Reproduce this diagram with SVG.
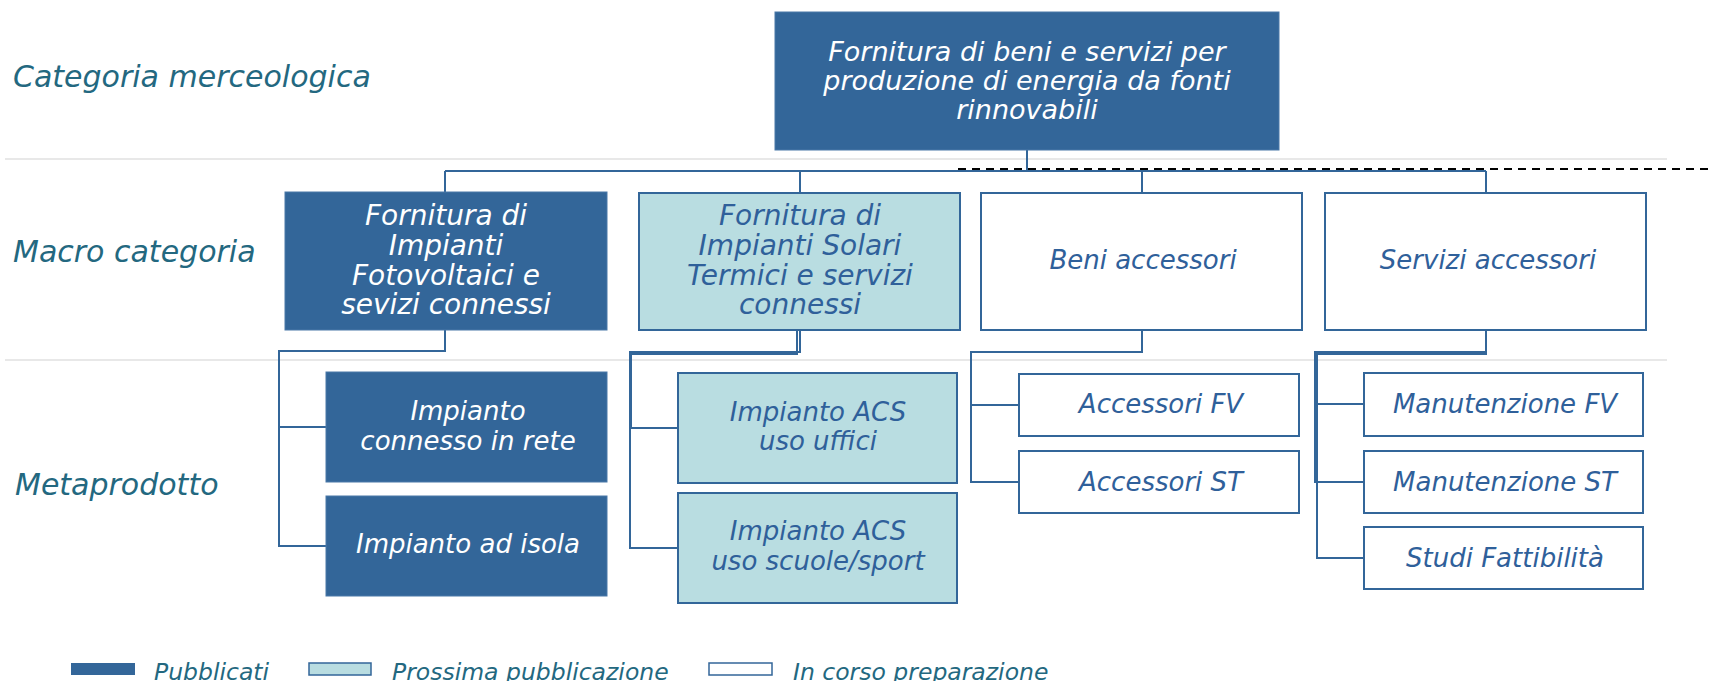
<svg xmlns="http://www.w3.org/2000/svg" width="1713" height="681" viewBox="0 0 1713 681">
<style>
text{font-family:"DejaVu Sans","Liberation Sans",sans-serif;font-style:italic;text-anchor:middle}
.lbl{font-size:30px;fill:#236880;text-anchor:start}
.leg{font-size:23.5px;fill:#236880;text-anchor:start}
.dark{fill:#336699;stroke:#4a78a8;stroke-width:1}
.light{fill:#b9dde1;stroke:#336699;stroke-width:2}
.white{fill:#ffffff;stroke:#336699;stroke-width:2}
.tw{fill:#ffffff}
.tb{fill:#2f609a}
.sep{stroke:#e8e8e8;stroke-width:2;fill:none}
.con{stroke:#336699;stroke-width:2;fill:none}
</style>
<rect width="1713" height="681" fill="#ffffff"/>
<g id="separators">
<path class="sep" d="M5,159 H1667 M5,360 H1667"/>
</g>
<g id="labels">
<text class="lbl" x="13" y="87">Categoria merceologica</text>
<text class="lbl" x="13" y="262">Macro categoria</text>
<text class="lbl" x="15" y="495">Metaprodotto</text>
</g>
<g id="connectors">
<path class="con" d="M1027,150 V171 M445,171 H1486 M445,171 V192 M800,171 V193 M1142,171 V193 M1486,171 V193"/>
<path class="con" d="M445,330 V351 H279 V546 H326 M279,427 H326"/>
<path class="con" d="M800,330 V352 H630 V548 H678 M797,330 V354 H631 V428 H678"/>
<path class="con" d="M1142,330 V352 H971 V482 H1019 M971,405 H1019"/>
<path class="con" d="M1486,330 V352 H1315 V482 H1364 M1486,330 V354 H1317 V558 H1364 M1315,404 H1364"/>
<path d="M958,169 H1713" stroke="#000000" stroke-width="2" stroke-dasharray="8 6" fill="none"/>
</g>
<g id="n-top">
<rect class="dark" x="775" y="12" width="504" height="138"/>
<text class="tw" font-size="27" x="1027" y="61">Fornitura di beni e servizi per</text>
<text class="tw" font-size="27" x="1027" y="90">produzione di energia da fonti</text>
<text class="tw" font-size="27" x="1027" y="119">rinnovabili</text>
</g>
<g id="n-fv">
<rect class="dark" x="285" y="192" width="322" height="138"/>
<text class="tw" font-size="28" x="446" y="225">Fornitura di</text>
<text class="tw" font-size="28" x="446" y="255">Impianti</text>
<text class="tw" font-size="28" x="446" y="285">Fotovoltaici e</text>
<text class="tw" font-size="28" x="446" y="314">sevizi connessi</text>
</g>
<g id="n-st">
<rect class="light" x="639" y="193" width="321" height="137"/>
<text class="tb" font-size="28" x="800" y="225">Fornitura di</text>
<text class="tb" font-size="28" x="800" y="255">Impianti Solari</text>
<text class="tb" font-size="28" x="800" y="285">Termici e servizi</text>
<text class="tb" font-size="28" x="800" y="314">connessi</text>
</g>
<g id="n-beni">
<rect class="white" x="981" y="193" width="321" height="137"/>
<text class="tb" font-size="26" x="1143" y="269">Beni accessori</text>
</g>
<g id="n-servizi">
<rect class="white" x="1325" y="193" width="321" height="137"/>
<text class="tb" font-size="26" x="1488" y="269">Servizi accessori</text>
</g>
<g id="n-rete">
<rect class="dark" x="326" y="372" width="281" height="110"/>
<text class="tw" font-size="26" x="468" y="420">Impianto</text>
<text class="tw" font-size="26" x="468" y="450">connesso in rete</text>
</g>
<g id="n-isola">
<rect class="dark" x="326" y="496" width="281" height="100"/>
<text class="tw" font-size="26" x="468" y="553">Impianto ad isola</text>
</g>
<g id="n-acs-uffici">
<rect class="light" x="678" y="373" width="279" height="110"/>
<text class="tb" font-size="26" x="818" y="421">Impianto ACS</text>
<text class="tb" font-size="26" x="818" y="450">uso uffici</text>
</g>
<g id="n-acs-scuole">
<rect class="light" x="678" y="493" width="279" height="110"/>
<text class="tb" font-size="26" x="818" y="540">Impianto ACS</text>
<text class="tb" font-size="26" x="818" y="570">uso scuole/sport</text>
</g>
<g id="n-acc-fv">
<rect class="white" x="1019" y="374" width="280" height="62"/>
<text class="tb" font-size="26" x="1161" y="413">Accessori FV</text>
</g>
<g id="n-acc-st">
<rect class="white" x="1019" y="451" width="280" height="62"/>
<text class="tb" font-size="26" x="1161" y="491">Accessori ST</text>
</g>
<g id="n-man-fv">
<rect class="white" x="1364" y="373" width="279" height="63"/>
<text class="tb" font-size="26" x="1505" y="413">Manutenzione FV</text>
</g>
<g id="n-man-st">
<rect class="white" x="1364" y="451" width="279" height="62"/>
<text class="tb" font-size="26" x="1505" y="491">Manutenzione ST</text>
</g>
<g id="n-studi">
<rect class="white" x="1364" y="527" width="279" height="62"/>
<text class="tb" font-size="26" x="1505" y="567">Studi Fattibilità</text>
</g>
<g id="legend">
<rect x="71" y="663" width="64" height="12" fill="#336699"/>
<text class="leg" x="154" y="680">Pubblicati</text>
<rect x="309" y="663" width="62" height="12" fill="#b9dde1" stroke="#336699" stroke-width="1.5"/>
<text class="leg" x="392" y="680">Prossima pubblicazione</text>
<rect x="709" y="663" width="63" height="12" fill="#ffffff" stroke="#336699" stroke-width="1.5"/>
<text class="leg" x="793" y="680">In corso preparazione</text>
</g>
</svg>
